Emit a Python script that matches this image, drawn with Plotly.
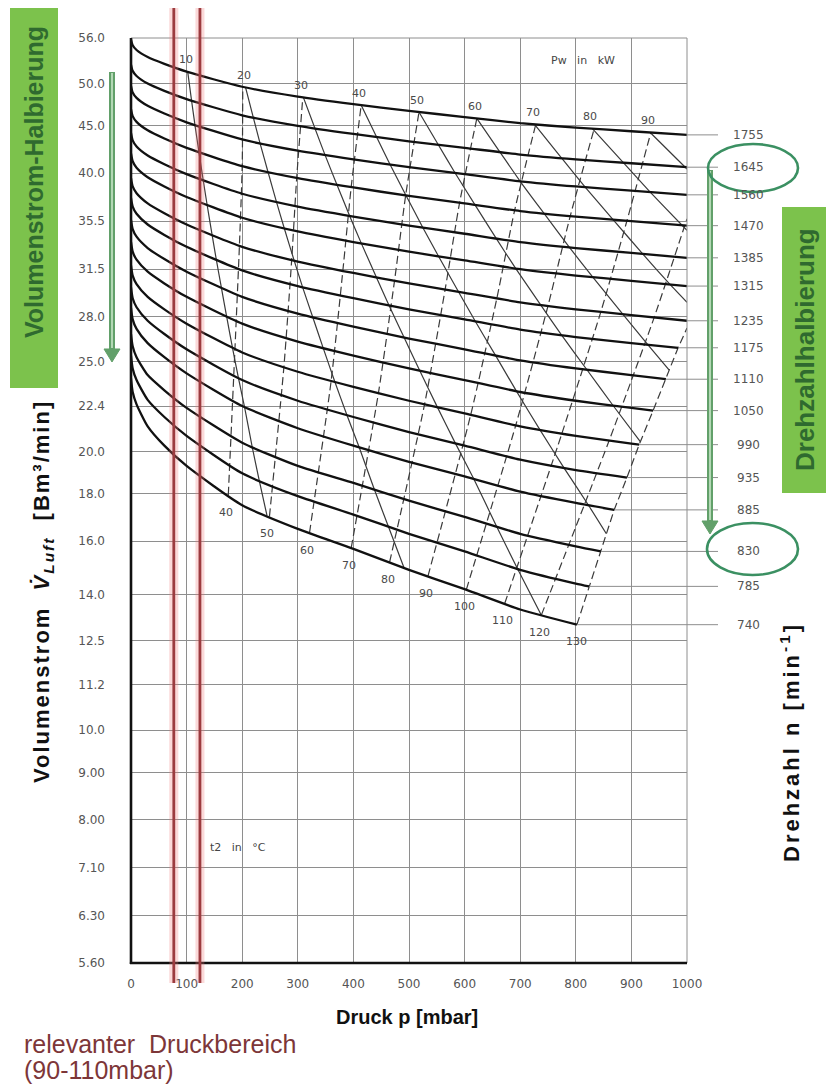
import numpy as np
import plotly.graph_objects as go

# ---------------- data ----------------
P_GRID = [0, 3, 10, 30, 60, 100, 200, 300, 400, 500, 600, 700, 800, 900, 1000]
RPM = [1755, 1645, 1560, 1470, 1385, 1315, 1235, 1175, 1110, 1050, 990, 935, 885, 830, 785, 740]
CURVE_END_P = [1000, 1000, 1000, 1000, 1000, 1000, 1000, 984, 962, 939, 914, 892, 869, 845, 824, 802]

Q_1755 = [55.8, 55.0, 54.35, 53.4, 52.5, 51.5, 49.6, 48.4, 47.5, 46.7, 46.0, 45.3, 44.8, 44.4, 44.0]
Q_1645 = [52.4, 51.6, 50.95, 50.0, 49.1, 48.1, 46.2, 45.0, 44.1, 43.3, 42.6, 41.9, 41.4, 41.0, 40.6]
Q_1560 = [49.7, 48.9, 48.25, 47.3, 46.4, 45.4, 43.5, 42.3, 41.4, 40.6, 39.9, 39.2, 38.7, 38.3, 37.9]
Q_1470 = [46.9, 46.1, 45.45, 44.5, 43.6, 42.6, 40.7, 39.5, 38.6, 37.8, 37.1, 36.4, 35.9, 35.5, 35.1]
Q_1385 = [44.2, 43.4, 42.75, 41.8, 40.9, 39.9, 38.0, 36.8, 35.9, 35.1, 34.4, 33.7, 33.2, 32.8, 32.4]
Q_1315 = [42.0, 41.2, 40.55, 39.6, 38.7, 37.7, 35.8, 34.6, 33.7, 32.9, 32.2, 31.5, 31.0, 30.6, 30.2]
Q_1235 = [39.5, 38.7, 38.05, 37.1, 36.2, 35.2, 33.3, 32.1, 31.2, 30.4, 29.7, 29.0, 28.5, 28.1, 27.7]
Q_1175 = [37.6, 36.8, 36.15, 35.2, 34.3, 33.3, 31.4, 30.2, 29.3, 28.5, 27.8, 27.1, 26.6, 26.2, 25.9]
Q_1110 = [35.6, 34.8, 34.15, 33.2, 32.3, 31.3, 29.4, 28.2, 27.3, 26.5, 25.8, 25.1, 24.6, 24.2, 23.95]
Q_1050 = [33.7, 32.9, 32.25, 31.3, 30.4, 29.4, 27.5, 26.3, 25.4, 24.6, 23.9, 23.2, 22.7, 22.3, 22.15]
Q_990 = [31.8, 31.0, 30.35, 29.4, 28.5, 27.5, 25.6, 24.4, 23.5, 22.7, 22.0, 21.3, 20.8, 20.4, 20.35]
Q_935 = [30.1, 29.3, 28.65, 27.7, 26.8, 25.8, 23.9, 22.7, 21.8, 21.0, 20.3, 19.6, 19.1, 18.75]
Q_885 = [28.6, 27.8, 27.15, 26.2, 25.3, 24.3, 22.4, 21.2, 20.3, 19.5, 18.8, 18.1, 17.6, 17.3]
Q_830 = [26.8, 26.0, 25.3, 24.2, 23.3, 22.3, 20.45, 19.3, 18.5, 17.7, 17.0, 16.3, 15.8, 15.6]
Q_785 = [25.4, 24.6, 23.9, 22.75, 21.8, 20.8, 18.95, 17.9, 17.1, 16.3, 15.6, 14.9, 14.4, 14.3]
Q_740 = [24.0, 23.2, 22.5, 21.3, 20.3, 19.3, 17.5, 16.5, 15.7, 14.9, 14.2, 13.5, 13.0]
CURVE_Q = [Q_1755, Q_1645, Q_1560, Q_1470, Q_1385, Q_1315, Q_1235, Q_1175,
           Q_1110, Q_1050, Q_990, Q_935, Q_885, Q_830, Q_785, Q_740]

# power lines Pw [kW]: pressure where each line crosses the rpm curves (RPM order)
POWER_KW = [10, 20, 30, 40, 50, 60, 70, 80, 90]
POWER_P = [
    [102.0, 108.9, 115.0, 122.1, 129.8, 136.8, 145.8, 153.3, 162.4, 171.8, 182.3, 193.2, 204.2, 217.9, 230.5, 244.6],
    [206.0, 219.9, 232.0, 246.3, 261.5, 275.5, 293.5, 308.6, 326.8, 345.6, 366.6, 388.3, 410.4, 437.7, 462.9, 491.2],
    [310.0, 330.8, 348.9, 370.4, 393.3, 414.3, 441.3, 463.9, 491.2, 519.4, 551.0, 583.5, 616.6, 657.6, 695.4, 737.8],
    [413.9, 441.7, 465.9, 494.6, 525.0, 553.1, 589.0, 619.2, 655.6, 693.2, 735.3, 778.7, 822.8],
    [517.9, 552.7, 582.9, 618.7, 656.8, 691.8, 736.8, 774.5, 820.0, 867.0],
    [621.9, 663.6, 699.9, 742.9, 788.5, 830.6, 884.5, 929.8],
    [725.8, 774.5, 816.8, 867.0, 920.3, 969.4],
    [829.8, 885.5, 933.8, 991.1],
    [933.8, 996.4],
]
POWER_END_P = [None, None, None, 855, 916, 968, 1000, 1000, 1000]
POWER_END_Q = [None, None, None, 16.3, 20.5, 24.5, 29.0, 34.7, 40.4]

# discharge temperature lines t2 [°C]: crossings at these rpm curves
TEMP_RPM = [740, 990, 1235, 1470, 1755]
TEMP_C = [40, 50, 60, 70, 80, 90, 100, 110, 120]
TEMP_P = [
    [175, 187, 195, 200, 201],
    [249, 275, 289, 298, 309],
    [321, 360, 381, 396, 414],
    [396, 445, 474, 494, 518],
    [465, 528, 565, 591, 622],
    [534, 611, 658, 690, 728],
    [603, 692, 750, 790, 833],
    [672, 775, 845, 892, 935],
    [738, 860, 941, 996],
]
TEMP_END_P = [None] * 8 + [1000]
TEMP_END_Q = [None] * 8 + [35.7]
T130_P = [802, 824, 845, 869, 892, 914, 939, 962, 984, 1000]
T130_Q = [13.0, 14.3, 15.6, 17.3, 18.75, 20.35, 22.15, 23.95, 25.9, 27.2]

Y_TICKS = [5.6, 6.3, 7.1, 8.0, 9.0, 10.0, 11.2, 12.5, 14.0, 16.0, 18.0, 20.0,
           22.4, 25.0, 28.0, 31.5, 35.5, 40.0, 45.0, 50.0, 56.0]
Y_TICK_TEXT = ["5.60", "6.30", "7.10", "8.00", "9.00", "10.0", "11.2", "12.5", "14.0", "16.0",
               "18.0", "20.0", "22.4", "25.0", "28.0", "31.5", "35.5", "40.0", "45.0", "50.0", "56.0"]
X_TICKS = [0, 100, 200, 300, 400, 500, 600, 700, 800, 900, 1000]
RED_P = [77, 124]

# ---------------- layout helpers ----------------
W, H = 826, 1091
ML, MR, MT, MB = 131, 139, 38, 128
PW, PH = W - ML - MR, H - MT - MB


def fx(xpx):
    return (xpx - ML) / PW


def fy(ypx):
    return (H - MB - ypx) / PH


LINE_C = "#3a3a3a"
GRID_C = "#8e8e8e"
TICK_FONT = dict(family="DejaVu Sans", size=12, color="#555555")
LBL_FONT = dict(family="DejaVu Sans", size=11, color="#4a4a4a")
BOLD = dict(family="Liberation Sans", color="#111", weight="bold")

curve_p = []
for end in CURVE_END_P:
    curve_p.append([g for g in P_GRID if g < end - 5] + [end])


def q_on(idx, p):
    return float(np.interp(p, curve_p[idx], CURVE_Q[idx]))


def ann(**kw):
    d = dict(showarrow=False, xanchor="center", yanchor="middle")
    d.update(kw)
    return d


fig = go.Figure()
annotations = []
shapes = []

# power lines
for k, kw in enumerate(POWER_KW):
    xs = list(POWER_P[k])
    ys = [q_on(i, p) for i, p in enumerate(xs)]
    if POWER_END_P[k] is not None:
        xs.append(POWER_END_P[k])
        ys.append(POWER_END_Q[k])
    fig.add_trace(go.Scatter(x=xs, y=ys, mode="lines", hoverinfo="skip", showlegend=False,
                             line=dict(color=LINE_C, width=1.2, shape="spline", smoothing=0.5)))
    annotations.append(ann(x=xs[0], y=np.log10(ys[0]), xref="x", yref="y", text=str(kw),
                           yshift=12, xshift=-2, font=LBL_FONT))

# temperature lines
for k, tc in enumerate(TEMP_C):
    xs = list(TEMP_P[k])
    ys = [q_on(RPM.index(TEMP_RPM[i]), p) for i, p in enumerate(xs)]
    if TEMP_END_P[k] is not None:
        xs.append(TEMP_END_P[k])
        ys.append(TEMP_END_Q[k])
    fig.add_trace(go.Scatter(x=xs, y=ys, mode="lines", hoverinfo="skip", showlegend=False,
                             line=dict(color=LINE_C, width=1.2, dash="8px,4px", shape="spline", smoothing=0.6)))
    annotations.append(ann(x=xs[0], y=np.log10(ys[0]), xref="x", yref="y", text=str(tc),
                           yshift=-17, xshift=-2, font=LBL_FONT))
fig.add_trace(go.Scatter(x=T130_P, y=T130_Q, mode="lines", hoverinfo="skip", showlegend=False,
                         line=dict(color=LINE_C, width=1.2, dash="8px,4px")))
annotations.append(ann(x=T130_P[0], y=np.log10(T130_Q[0]), xref="x", yref="y", text="130",
                       yshift=-17, xshift=0, font=LBL_FONT))

# rpm curves + leaders + right labels
for i, n in enumerate(RPM):
    xs, ys = curve_p[i], CURVE_Q[i]
    pe, qe = xs[-1], ys[-1]
    if pe < 1000:
        fig.add_trace(go.Scatter(x=[pe, 1000], y=[qe, qe], mode="lines", hoverinfo="skip", showlegend=False,
                                 line=dict(color=GRID_C, width=1)))
    fig.add_trace(go.Scatter(x=xs, y=ys, mode="lines", hoverinfo="skip", showlegend=False,
                             line=dict(color="#111111", width=2.3, shape="spline", smoothing=0.6)))
    shapes.append(dict(type="line", xref="paper", yref="y", x0=1.0, x1=fx(718), y0=qe, y1=qe,
                       line=dict(color=GRID_C, width=1)))
    annotations.append(ann(x=fx(748), y=np.log10(qe), xref="paper", yref="y", text=str(n), font=TICK_FONT))

# axes frame
shapes += [
    dict(type="line", xref="paper", yref="paper", x0=0, x1=1, y0=1, y1=1, line=dict(color=GRID_C, width=1)),
    dict(type="line", xref="paper", yref="paper", x0=1, x1=1, y0=0, y1=1, line=dict(color=GRID_C, width=1)),
    dict(type="line", xref="paper", yref="paper", x0=0, x1=0, y0=-0.001, y1=1.0, line=dict(color="#111", width=2.6)),
    dict(type="line", xref="paper", yref="paper", x0=-0.002, x1=1, y0=0, y1=0, line=dict(color="#111", width=2.6)),
]

# red lines (relevant pressure range)
for rp in RED_P:
    shapes.append(dict(type="line", xref="x", yref="paper", x0=rp, x1=rp, y0=fy(983), y1=fy(8),
                       line=dict(color="rgba(240,120,120,0.28)", width=9)))
    shapes.append(dict(type="line", xref="x", yref="paper", x0=rp, x1=rp, y0=fy(983), y1=fy(8),
                       line=dict(color="#9c3b3f", width=2.8)))

# green boxes
GREEN_BOX = "#7cc24c"
GREEN_TXT = "#2f6a2f"
shapes.append(dict(type="rect", xref="paper", yref="paper", x0=fx(10), x1=fx(58), y0=fy(388), y1=fy(8),
                   fillcolor=GREEN_BOX, line=dict(width=0), layer="below"))
shapes.append(dict(type="rect", xref="paper", yref="paper", x0=fx(782), x1=fx(830), y0=fy(493), y1=fy(207),
                   fillcolor=GREEN_BOX, line=dict(width=0), layer="below"))
annotations.append(ann(x=fx(34), y=fy(182), xref="paper", yref="paper", text="Volumenstrom-Halbierung",
                       textangle=-90, font=dict(family="Liberation Sans", size=25, color=GREEN_TXT, weight="bold")))
annotations.append(ann(x=fx(805), y=fy(350), xref="paper", yref="paper", text="Drehzahlhalbierung",
                       textangle=-90, font=dict(family="Liberation Sans", size=26, color=GREEN_TXT, weight="bold")))

# green arrows (shaft + head as shapes)
ARROW_C = "#62a06a"
for xa, ytop, ybot in [(112, 72, 362), (710, 170, 534)]:
    shapes.append(dict(type="line", xref="paper", yref="paper", x0=fx(xa), x1=fx(xa), y0=fy(ybot - 12),
                       y1=fy(ytop), line=dict(color=ARROW_C, width=6)))
    shapes.append(dict(type="path", xref="paper", yref="paper",
                       path="M %f %f L %f %f L %f %f Z" % (fx(xa - 8), fy(ybot - 13), fx(xa + 8), fy(ybot - 13),
                                                         fx(xa), fy(ybot)),
                       fillcolor=ARROW_C, line=dict(color=ARROW_C, width=1)))
    shapes.append(dict(type="line", xref="paper", yref="paper", x0=fx(xa), x1=fx(xa), y0=fy(ybot - 14),
                       y1=fy(ytop + 1), line=dict(color="#c9e6c9", width=1.6)))

# green ellipses
for (x0, y0, x1, y1) in [(708, 144, 798, 192), (707, 523, 798, 575)]:
    shapes.append(dict(type="circle", xref="paper", yref="paper", x0=fx(x0), x1=fx(x1), y0=fy(y1), y1=fy(y0),
                       line=dict(color="#3b9062", width=2.6)))

# texts
SMALL = dict(family="DejaVu Sans", size=11, color="#444")
annotations.append(ann(x=fx(583), y=fy(61), xref="paper", yref="paper",
                       text="Pw\u00a0\u00a0 in\u00a0\u00a0 kW", font=SMALL))
annotations.append(ann(x=fx(238), y=fy(848), xref="paper", yref="paper",
                       text="t2\u00a0\u00a0 in\u00a0\u00a0 °C", font=SMALL))
annotations.append(ann(x=fx(407), y=fy(1017), xref="paper", yref="paper", text="Druck p [mbar]",
                       font=dict(BOLD, size=20)))
annotations.append(ann(x=fx(43), y=fy(592), xref="paper", yref="paper",
                       text='<span style="letter-spacing:2px">Volumenstrom\u00a0 <i>V\u0307</i>'
                            '<sub><i>Luft</i></sub>\u00a0 [Bm³/min]</span>',
                       textangle=-90, font=dict(BOLD, size=22)))
annotations.append(ann(x=fx(790), y=fy(742), xref="paper", yref="paper",
                       text='<span style="letter-spacing:3px">Drehzahl n [min<sup>-1</sup>]</span>',
                       textangle=-90, font=dict(BOLD, size=22)))
RED_TXT = dict(family="Liberation Sans", size=25, color="#7d3638")
annotations.append(ann(x=fx(22), y=fy(1044), xref="paper", yref="paper", xanchor="left",
                       text="relevanter\u00a0 Druckbereich", font=RED_TXT))
annotations.append(ann(x=fx(22), y=fy(1070), xref="paper", yref="paper", xanchor="left",
                       text="(90-110mbar)", font=RED_TXT))

fig.update_layout(
    width=W, height=H,
    margin=dict(l=ML, r=MR, t=MT, b=MB, autoexpand=False),
    paper_bgcolor="white", plot_bgcolor="white",
    showlegend=False,
    shapes=shapes,
    annotations=annotations,
    xaxis=dict(range=[0, 1000], tickvals=X_TICKS, ticktext=[str(v) for v in X_TICKS],
               showgrid=True, gridcolor=GRID_C, gridwidth=1, zeroline=False, showline=False,
               ticks="", tickfont=TICK_FONT, ticklabelstandoff=12, fixedrange=True),
    yaxis=dict(type="log", range=[np.log10(5.6), np.log10(56)], tickvals=Y_TICKS, ticktext=Y_TICK_TEXT,
               showgrid=True, gridcolor=GRID_C, gridwidth=1, zeroline=False, showline=False,
               ticks="", tickfont=TICK_FONT, ticklabelstandoff=25, fixedrange=True),
)

fig.write_html("out.html", config={"displayModeBar": False, "staticPlot": True},
               post_script="document.body.style.margin='0px';")
